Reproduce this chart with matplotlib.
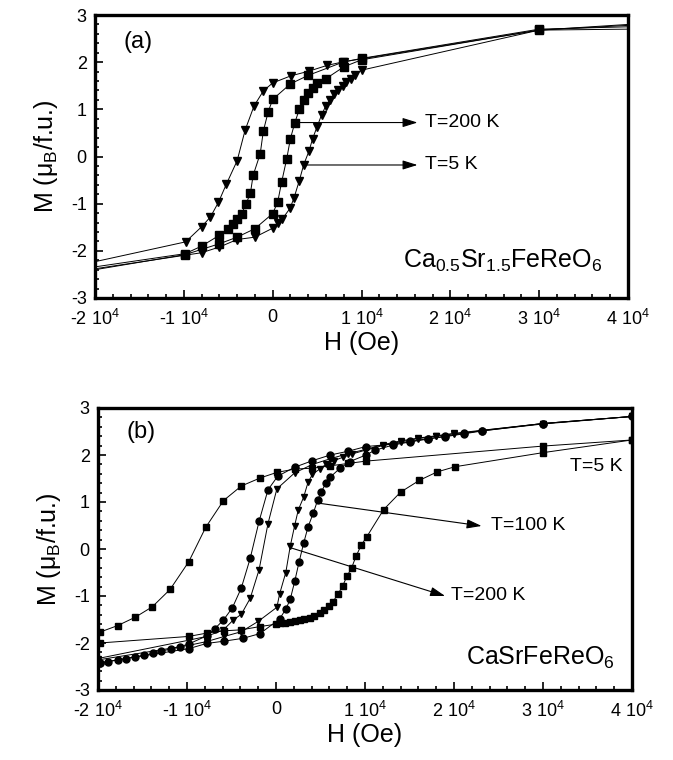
import matplotlib
matplotlib.use("Agg")
import matplotlib.pyplot as plt
from matplotlib.ticker import MultipleLocator, FixedLocator, FixedFormatter
import numpy as np

plt.rcParams['font.family'] = ['Liberation Sans', 'DejaVu Sans']
plt.rcParams['mathtext.fontset'] = 'custom'
plt.rcParams['mathtext.rm'] = 'Liberation Sans'
plt.rcParams['mathtext.it'] = 'Liberation Sans:italic'
plt.rcParams['mathtext.bf'] = 'Liberation Sans:bold'

# ---------------- data (H in units of 1e4 Oe, M in mu_B/f.u.) ----------------
# Panel (a) Ca0.5Sr1.5FeReO6
a5_desc_H = [4.0, 3.0, 1.0, 0.80, 0.61, 0.41, 0.205, 0.0, -0.105, -0.21, -0.31, -0.40, -0.52, -0.61, -0.70, -0.80, -0.98, -2.0]
a5_desc_M = [2.78, 2.68, 2.07, 2.01, 1.93, 1.81, 1.71, 1.56, 1.39, 1.07, 0.56, -0.09, -0.58, -0.97, -1.28, -1.49, -1.81, -2.23]
a5_asc_H = [-2.0, -0.80, -0.60, -0.40, -0.20, 0.0, 0.06, 0.11, 0.195, 0.24, 0.30, 0.35, 0.41, 0.45, 0.50, 0.55, 0.60, 0.645, 0.69, 0.74, 0.79, 0.83, 0.88, 0.925, 1.0, 3.0, 4.0]
a5_asc_M = [-2.38, -2.04, -1.92, -1.76, -1.71, -1.52, -1.40, -1.32, -1.10, -0.88, -0.51, -0.17, 0.12, 0.38, 0.63, 0.88, 1.08, 1.20, 1.32, 1.42, 1.50, 1.58, 1.65, 1.73, 1.83, 2.68, 2.70]

a200_desc_H = [4.0, 3.0, 1.0, 0.79, 0.40, 0.20, 0.0, -0.05, -0.105, -0.14, -0.22, -0.25, -0.30, -0.35, -0.40, -0.45, -0.50, -0.60, -0.80, -0.985, -2.0]
a200_desc_M = [2.75, 2.70, 2.08, 2.00, 1.72, 1.54, 1.21, 0.95, 0.54, 0.06, -0.40, -0.77, -1.01, -1.21, -1.33, -1.44, -1.53, -1.67, -1.90, -2.06, -2.34]
a200_asc_H = [-2.0, -0.985, -0.60, -0.40, -0.20, 0.0, 0.056, 0.10, 0.157, 0.20, 0.25, 0.30, 0.35, 0.40, 0.45, 0.50, 0.60, 0.80, 1.0, 3.0, 4.0]
a200_asc_M = [-2.40, -2.08, -1.85, -1.71, -1.53, -1.21, -0.97, -0.55, -0.06, 0.38, 0.72, 1.00, 1.20, 1.34, 1.46, 1.56, 1.65, 1.90, 2.05, 2.68, 2.80]

# Panel (b) CaSrFeReO6
b5_desc_H = [4.0, 3.0, 1.01, 0.81, 0.61, 0.41, 0.21, 0.01, -0.18, -0.39, -0.59, -0.79, -0.98, -1.19, -1.39, -1.58, -1.78, -1.98]
b5_desc_M = [2.32, 2.19, 1.87, 1.82, 1.77, 1.72, 1.70, 1.63, 1.51, 1.34, 1.03, 0.46, -0.27, -0.86, -1.23, -1.45, -1.63, -1.77]
b5_asc_H = [-1.98, -0.98, -0.78, -0.58, -0.39, -0.18, 0.00, 0.05, 0.10, 0.16, 0.21, 0.27, 0.32, 0.38, 0.43, 0.49, 0.54, 0.59, 0.64,
            0.70, 0.75, 0.80, 0.85, 0.90, 0.96, 1.02, 1.21, 1.40, 1.61, 1.81, 2.01, 3.0, 4.0]
b5_asc_M = [-2.00, -1.86, -1.79, -1.74, -1.72, -1.65, -1.60, -1.58, -1.57, -1.55, -1.53, -1.51, -1.49, -1.46, -1.42, -1.36, -1.30, -1.22, -1.12,
            -0.95, -0.78, -0.57, -0.40, -0.15, 0.09, 0.26, 0.84, 1.21, 1.46, 1.64, 1.75, 2.05, 2.32]

b100_desc_H = [4.0, 3.0, 2.31, 2.11, 1.90, 1.71, 1.51, 1.31, 1.01, 0.81, 0.61, 0.41, 0.21, 0.02, -0.09, -0.19, -0.29, -0.39, -0.49, -0.59, -0.69,
               -0.78, -0.98, -1.08, -1.18, -1.29, -1.38, -1.48, -1.58, -1.68, -1.78, -1.89, -1.98]
b100_desc_M = [2.82, 2.67, 2.52, 2.46, 2.40, 2.35, 2.29, 2.23, 2.18, 2.08, 2.00, 1.88, 1.74, 1.55, 1.26, 0.59, -0.20, -0.83, -1.25, -1.51, -1.70,
               -1.85, -2.02, -2.08, -2.13, -2.17, -2.22, -2.26, -2.29, -2.33, -2.36, -2.40, -2.42]
b100_asc_H = [-1.98, -0.98, -0.78, -0.58, -0.37, -0.18, 0.04, 0.11, 0.16, 0.21, 0.26, 0.31, 0.36, 0.42, 0.47, 0.51, 0.56, 0.61, 0.72, 0.83,
              1.01, 1.11, 1.31, 1.51, 1.71, 1.90, 2.11, 2.31, 3.0, 4.0]
b100_asc_M = [-2.42, -2.12, -2.01, -1.96, -1.90, -1.80, -1.49, -1.28, -1.07, -0.69, -0.27, 0.12, 0.47, 0.77, 1.05, 1.22, 1.40, 1.53, 1.72, 1.86,
              2.00, 2.10, 2.21, 2.28, 2.34, 2.39, 2.45, 2.51, 2.67, 2.82]

b200_desc_H = [4.0, 3.0, 2.0, 1.8, 1.6, 1.4, 1.2, 1.01, 0.81, 0.61, 0.41, 0.21, 0.01, -0.09, -0.19, -0.29, -0.39, -0.48, -0.59, -0.78, -0.98, -2.0]
b200_desc_M = [2.82, 2.67, 2.46, 2.41, 2.36, 2.30, 2.22, 2.12, 2.03, 1.92, 1.80, 1.62, 1.28, 0.54, -0.44, -1.05, -1.39, -1.51, -1.72, -1.86, -1.94, -2.33]
b200_asc_H = [-2.0, -0.98, -0.78, -0.58, -0.39, -0.20, 0.01, 0.04, 0.11, 0.16, 0.21, 0.25, 0.31, 0.36, 0.41, 0.49, 0.56, 0.65, 0.75, 0.85,
              1.0, 1.2, 1.4, 1.6, 1.8, 2.0, 3.0, 4.0]
b200_asc_M = [-2.36, -2.05, -1.97, -1.86, -1.76, -1.54, -1.24, -0.96, -0.50, 0.06, 0.50, 0.83, 1.10, 1.42, 1.59, 1.70, 1.80, 1.88, 1.95, 2.02,
              2.10, 2.20, 2.28, 2.35, 2.40, 2.45, 2.66, 2.82]

x_ticks = [-2, -1, 0, 1, 2, 3, 4]
x_ticklabels = ['-2 10$^{4}$', '-1 10$^{4}$', '0', '1 10$^{4}$', '2 10$^{4}$', '3 10$^{4}$', '4 10$^{4}$']
y_ticks = [-3, -2, -1, 0, 1, 2, 3]
y_ticklabels = ['-3', '-2', '-1', '0', '1', '2', '3']

SCALE = 1e4

fig = plt.figure(figsize=(6.73, 7.6), dpi=100)
axa = fig.add_axes([95/673, 1-298/760, 533/673, 283/760])
axb = fig.add_axes([98/673, 1-690/760, 534/673, 282/760])


def style(ax):
    ax.set_xlim(-2*SCALE, 4*SCALE)
    ax.set_ylim(-3, 3)
    ax.xaxis.set_major_locator(FixedLocator([v*SCALE for v in x_ticks]))
    ax.xaxis.set_major_formatter(FixedFormatter(x_ticklabels))
    ax.xaxis.set_minor_locator(MultipleLocator(2000))
    ax.yaxis.set_major_locator(FixedLocator(y_ticks))
    ax.yaxis.set_major_formatter(FixedFormatter(y_ticklabels))
    ax.yaxis.set_minor_locator(MultipleLocator(0.2))
    ax.tick_params(which='both', direction='in', top=False, right=False, labelsize=13, width=1.2)
    ax.tick_params(which='major', length=6)
    ax.tick_params(which='minor', length=3)
    ax.tick_params(axis='x', pad=8)
    ax.tick_params(axis='y', pad=6)
    for s in ax.spines.values():
        s.set_linewidth(2.4)
    ax.set_xlabel('H (Oe)', fontsize=18, labelpad=1)
    ax.set_ylabel('M (μ$_{\\mathrm{B}}$/f.u.)', fontsize=18, labelpad=8)


def loop(ax, H1, M1, H2, M2, marker, ms, trim):
    for H, M in ((H1, M1), (H2, M2)):
        Hs = np.array(H) * SCALE
        Ms = np.array(M)
        ax.plot(Hs, Ms, '-', color='black', lw=0.7, zorder=2)
        if trim:
            ax.plot(Hs[1:-1], Ms[1:-1], linestyle='none', marker=marker, ms=ms, color='black', zorder=3)
        else:
            ax.plot(Hs, Ms, linestyle='none', marker=marker, ms=ms, color='black', zorder=3)


style(axa)
style(axb)

loop(axa, a5_desc_H, a5_desc_M, a5_asc_H, a5_asc_M, 'v', 5.5, True)
loop(axa, a200_desc_H, a200_desc_M, a200_asc_H, a200_asc_M, 's', 5.5, True)

loop(axb, b5_desc_H, b5_desc_M, b5_asc_H, b5_asc_M, 's', 5.0, False)
loop(axb, b100_desc_H, b100_desc_M, b100_asc_H, b100_asc_M, 'o', 5.0, False)
loop(axb, b200_desc_H, b200_desc_M, b200_asc_H, b200_asc_M, 'v', 5.0, False)

arrow = dict(arrowstyle='-|>,head_length=0.9,head_width=0.28', color='black', lw=0.8,
             shrinkA=0, shrinkB=0)

# panel (a) annotations
axa.annotate('', xy=(1.63*SCALE, 0.72), xytext=(0.31*SCALE, 0.72), arrowprops=arrow)
axa.annotate('', xy=(1.63*SCALE, -0.18), xytext=(0.36*SCALE, -0.18), arrowprops=arrow)
axa.text(1.71*SCALE, 0.72, 'T=200 K', fontsize=14, ha='left', va='center')
axa.text(1.71*SCALE, -0.18, 'T=5 K', fontsize=14, ha='left', va='center')
axa.text(0.053, 0.905, '(a)', transform=axa.transAxes, fontsize=17, ha='left', va='center')
axa.text(0.951, 0.106, 'Ca$_{0.5}$Sr$_{1.5}$FeReO$_{6}$', transform=axa.transAxes,
         fontsize=18, ha='right', va='baseline')

# panel (b) annotations
axb.annotate('', xy=(2.31*SCALE, 0.49), xytext=(0.46*SCALE, 0.98), arrowprops=arrow)
axb.annotate('', xy=(1.90*SCALE, -1.00), xytext=(0.175*SCALE, 0.02), arrowprops=arrow)
axb.text(2.42*SCALE, 0.49, 'T=100 K', fontsize=14, ha='left', va='center')
axb.text(1.97*SCALE, -1.00, 'T=200 K', fontsize=14, ha='left', va='center')
axb.text(3.90*SCALE, 1.76, 'T=5 K', fontsize=14, ha='right', va='center')
axb.text(0.054, 0.915, '(b)', transform=axb.transAxes, fontsize=17, ha='left', va='center')
axb.text(0.968, 0.089, 'CaSrFeReO$_{6}$', transform=axb.transAxes,
         fontsize=18, ha='right', va='baseline')

fig.savefig('out.png', dpi=100)
